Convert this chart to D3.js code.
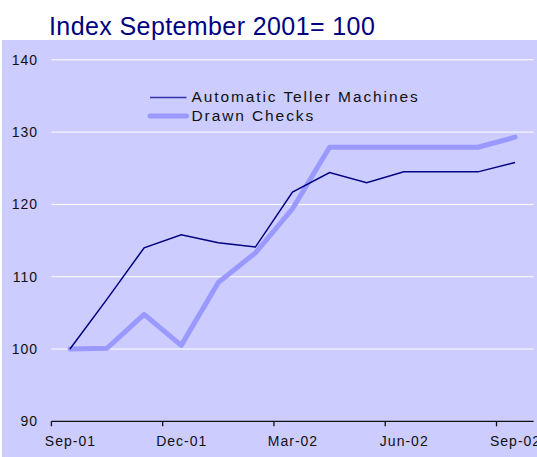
<!DOCTYPE html>
<html>
<head>
<meta charset="utf-8">
<script src="https://cdn.jsdelivr.net/npm/d3@7"></script>
<style>
  html, body { margin: 0; padding: 0; background: #fff; }
  svg { display: block; font-family: "Liberation Sans", Arial, sans-serif; }
</style>
</head>
<body>
<div id="svg-container"></div>
<script>
////////////////////////////////////////////////////////////////////
////////////////////////////  Data  ////////////////////////////////
const months = ["Sep-01", "Oct-01", "Nov-01", "Dec-01", "Jan-02", "Feb-02", "Mar-02",
  "Apr-02", "May-02", "Jun-02", "Jul-02", "Aug-02", "Sep-02"];
const tickMonths = ["Sep-01", "Dec-01", "Mar-02", "Jun-02", "Sep-02"];
const atm = [100, 106.9, 114.0, 115.8, 114.7, 114.1, 121.7, 124.4, 123.0, 124.5, 124.5, 124.5, 125.8];
const checks = [100, 100.1, 104.8, 100.5, 109.2, 113.3, 119.4, 127.9, 127.9, 127.9, 127.9, 127.9, 129.3];
const yTicks = [90, 100, 110, 120, 130, 140];
const seriesNames = ["Automatic Teller Machines", "Drawn Checks"];

////////////////////////////////////////////////////////////////////
////////////////////////////  Init  ////////////////////////////////
const width = 537, height = 457;
const svg = d3.select("#svg-container").append("svg")
  .attr("width", width).attr("height", height);

// plot area background
svg.append("rect")
  .attr("x", 2).attr("y", 40)
  .attr("width", width - 2).attr("height", height - 40)
  .attr("fill", "#ccccff");

// title
svg.append("text")
  .attr("x", 49).attr("y", 35)
  .attr("font-size", 25)
  .attr("letter-spacing", 0.4)
  .attr("fill", "#000080")
  .text("Index September 2001= 100");

const xScale = d3.scaleBand().domain(months).range([51.4, 533.6]);
const yScale = d3.scaleLinear().domain([90, 140]).range([421.3, 59.8]);

// gridlines
svg.append("g")
  .selectAll("line")
  .data(yTicks.filter((d) => d > 90))
  .join("line")
  .attr("x1", 51.4).attr("x2", 533.6)
  .attr("y1", (d) => yScale(d)).attr("y2", (d) => yScale(d))
  .attr("stroke", "#fff").attr("stroke-width", 1);

// y labels
svg.append("g")
  .selectAll("text")
  .data(yTicks)
  .join("text")
  .attr("x", 38)
  .attr("y", (d) => yScale(d) + 5)
  .attr("text-anchor", "end")
  .attr("font-size", 14)
  .attr("letter-spacing", 1)
  .attr("fill", "#111")
  .text((d) => d);

// x axis
const xAxis = svg.append("g")
  .attr("transform", `translate(0,${yScale(90)})`);
xAxis.append("line")
  .attr("x1", 51.4).attr("x2", 533.6)
  .attr("stroke", "#111").attr("stroke-width", 1.3);
xAxis.selectAll(".tick")
  .data(tickMonths)
  .join("line")
  .attr("x1", (d) => xScale(d)).attr("x2", (d) => xScale(d))
  .attr("y1", 0).attr("y2", 5)
  .attr("stroke", "#111").attr("stroke-width", 1.3);
xAxis.selectAll(".lbl")
  .data(tickMonths)
  .join("text")
  .attr("x", (d) => xScale(d) + xScale.bandwidth() / 2 + 0.5)
  .attr("y", 25)
  .attr("text-anchor", "middle")
  .attr("font-size", 14)
  .attr("letter-spacing", 1)
  .attr("fill", "#111")
  .text((d) => d);

// lines
const lineGenerator = d3.line()
  .x((d, i) => xScale(months[i]) + xScale.bandwidth() / 2)
  .y((d) => yScale(d));

svg.append("path")
  .datum(checks)
  .attr("d", lineGenerator)
  .attr("fill", "none")
  .attr("stroke", "#9999ff")
  .attr("stroke-width", 5)
  .attr("stroke-linejoin", "round")
  .attr("stroke-linecap", "round");

svg.append("path")
  .datum(atm)
  .attr("d", lineGenerator)
  .attr("fill", "none")
  .attr("stroke", "#000080")
  .attr("stroke-width", 1.5);

// legend
const legend = svg.append("g");
const legendColors = ["#3333aa", "#9999ff"];
const legendWidths = [1.5, 5];
seriesNames.forEach((name, i) => {
  const y = 97.5 + i * 18.5;
  legend.append("line")
    .attr("x1", 150).attr("x2", 186.5)
    .attr("y1", y).attr("y2", y)
    .attr("stroke", legendColors[i])
    .attr("stroke-width", legendWidths[i])
    .attr("stroke-linecap", i === 1 ? "round" : "butt");
  legend.append("text")
    .attr("x", 191.5).attr("y", y + 4.5)
    .attr("font-size", 15.5)
    .attr("letter-spacing", 1.9)
    .attr("fill", "#111")
    .text(name);
});
</script>
</body>
</html>
